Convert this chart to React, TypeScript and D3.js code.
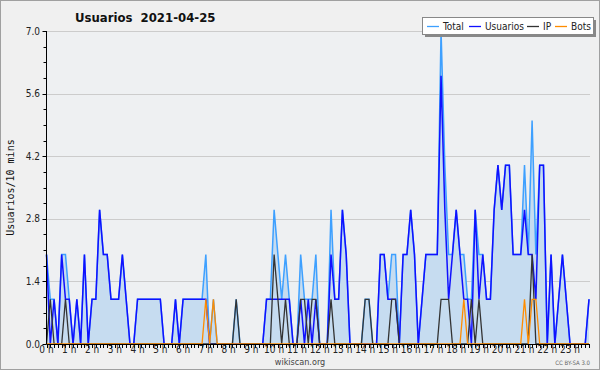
import React from "react";
import * as d3 from "d3";

const usuarios = [
  2,0,1,0,2,1,1,0,1,0,2,0, 1,1,3,2,2,1,1,1,2,1,0,0,
  1,1,1,1,1,1,1,0,0,0,1,0, 1,1,1,1,1,1,1,0,0,0,0,0,
  0,0,0,0,0,0,0,0,0,0,1,1, 1,1,1,1,1,0,0,1,0,1,0,1,
  0,0,0,2,1,1,3,2,0,0,0,0, 0,0,0,0,2,2,1,1,1,0,2,2,
  3,2,0,1,2,2,2,2,6,3,1,2, 3,2,1,1,0,3,1,2,1,1,3,4,
  3,4,4,2,2,2,3,2,2,1,4,4, 0,2,0,1,2,1,0,0,0,0,0,1,
];
const ip = [
  0,1,0,0,0,1,0,0,0,0,0,0, 0,0,0,0,0,0,0,0,0,0,0,0,
  0,0,0,0,0,0,0,0,0,0,0,0, 0,0,0,0,0,0,0,0,0,0,0,0,
  0,0,1,0,0,0,0,0,0,0,0,0, 2,1,0,1,0,0,0,1,1,0,1,1,
  0,0,0,1,0,0,0,0,0,0,0,0, 1,1,0,0,0,0,0,1,1,0,0,0,
  0,0,0,0,0,0,0,0,1,1,1,0, 0,0,0,0,1,0,1,0,0,0,0,0,
  0,0,0,0,0,0,0,0,2,0,0,0, 0,0,0,0,0,0,0,0,0,0,0,0,
];
const bots = [
  0,0,0,0,0,0,0,0,0,0,0,0, 0,0,0,0,0,0,0,0,0,0,0,0,
  0,0,0,0,0,0,0,0,0,0,0,0, 0,0,0,0,0,0,1,0,1,0,0,0,
  0,0,0,0,0,0,0,0,0,0,0,0, 0,0,0,0,0,0,0,0,0,0,0,0,
  0,0,0,0,0,0,0,0,0,0,0,0, 0,0,0,0,0,0,0,0,0,0,0,0,
  0,0,0,0,0,0,0,0,0,0,0,0, 0,0,1,0,0,0,0,0,0,0,0,0,
  0,0,0,0,0,0,1,0,1,1,0,0, 0,0,0,0,0,0,0,0,0,0,0,0,
];
const total = usuarios.map((u, i) => u + ip[i] + bots[i]);

const yTicks = [0, 1.4, 2.8, 4.2, 5.6, 7.0];
const hourLabels = d3.range(24).map((h) => `${h} h`);
const legendItems = [
  { label: "Total", color: "#3ea0ff", w: 26 },
  { label: "Usuarios", color: "#1010ff", w: 42 },
  { label: "IP", color: "#333333", w: 12 },
  { label: "Bots", color: "#ff8c00", w: 22 },
];

const W = 600;
const H = 370;
const X0 = 46.5;
const X1 = 589;
const Y0 = 344;
const Y1 = 31;
const FONT = "'DejaVu Sans Condensed', 'DejaVu Sans', sans-serif";

export default function App() {
  const x = d3.scaleLinear().domain([0, 143]).range([X0, X1]);
  const y = d3.scaleLinear().domain([0, 7]).range([Y0, Y1]);
  const idx = d3.range(144);
  const line = (arr: number[]) =>
    d3.line<number>().x((i) => x(i)).y((i) => y(arr[i]))(idx) || "";
  const area =
    d3
      .area<number>()
      .x((i) => x(i))
      .y0(Y0)
      .y1((i) => y(total[i]))(idx) || "";
  const minorY = d3.range(0, 7.0001, 0.35);

  let lx = 427;
  const legend = legendItems.map((it) => {
    const g = (
      <g key={it.label}>
        <line x1={lx} x2={lx + 12} y1={26.5} y2={26.5} stroke={it.color} strokeWidth={1.3} />
        <text x={lx + 16} y={30} fontSize={10} fill="#222">
          {it.label}
        </text>
      </g>
    );
    lx += 16 + it.w;
    return g;
  });

  return (
    <svg
      width={W}
      height={H}
      style={{ position: "absolute", left: 0, top: 0, display: "block" }}
      fontFamily={FONT}
    >
      <rect x={0.5} y={0.5} width={W - 1} height={H - 1} fill="#f0f0f0" stroke="#a0a0a0" />
      <rect x={X0} y={Y1} width={X1 - X0 + 1} height={Y0 - Y1} fill="#eef0f2" />
      {yTicks.slice(1).map((t) => (
        <line key={t} x1={X0} x2={X1 + 1} y1={Math.round(y(t)) + 0.5} y2={Math.round(y(t)) + 0.5} stroke="#cccccc" />
      ))}
      <path d={area} fill="#c6dcf0" />
      <path d={line(total)} fill="none" stroke="#3ea0ff" strokeWidth={1.5} />
      <path d={line(usuarios)} fill="none" stroke="#1010ff" strokeWidth={1.5} />
      <path d={line(ip)} fill="none" stroke="#333333" strokeWidth={1.3} />
      <path d={line(bots)} fill="none" stroke="#ff8c00" strokeWidth={1.3} />
      <line x1={X0} x2={X0} y1={Y1} y2={Y0} stroke="#000" />
      <line x1={X0} x2={X1 + 1} y1={Y0 + 0.5} y2={Y0 + 0.5} stroke="#000" />
      {minorY.map((t, k) => (
        <line key={k} x1={X0 - (k % 4 === 0 ? 4 : 3)} x2={X0} y1={Math.round(y(t)) + 0.5} y2={Math.round(y(t)) + 0.5} stroke="#000" />
      ))}
      {yTicks.map((t) => (
        <text key={t} x={40} y={y(t) + 3.5} fontSize={10} textAnchor="end" fill="#222">
          {t.toFixed(1)}
        </text>
      ))}
      {idx.map((i) => (
        <line key={i} x1={Math.round(x(i)) + 0.5} x2={Math.round(x(i)) + 0.5} y1={Y0} y2={Y0 + 4} stroke="#000" />
      ))}
      {hourLabels.map((h, k) => (
        <text key={h} x={x(k * 6)} y={353} fontSize={10} textAnchor="middle" fill="#222">
          {h}
        </text>
      ))}
      <text
        transform={`translate(14, ${(Y0 + Y1) / 2}) rotate(-90)`}
        fontSize={10}
        fontFamily="'DejaVu Sans Mono', monospace"
        textAnchor="middle"
        fill="#111"
      >
        Usuarios/10 mins
      </text>
      <text x={75} y={22} fontSize={13} fontWeight="bold" fill="#111">
        Usuarios{"\u00a0\u00a0"}2021-04-25
      </text>
      <rect x={425} y={20} width={171} height={17} fill="#888" />
      <rect x={422.5} y={17.5} width={171} height={17} fill="#fff" stroke="#888" />
      {legend}
      <text x={300} y={365} fontSize={9} textAnchor="middle" fill="#444">
        wikiscan.org
      </text>
      <text x={590} y={365} fontSize={6} textAnchor="end" fill="#666">
        CC BY-SA 3.0
      </text>
    </svg>
  );
}
